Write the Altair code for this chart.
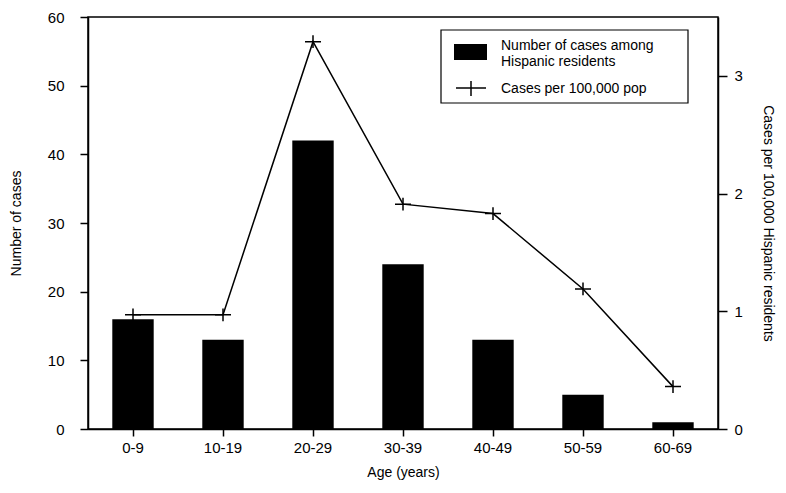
import altair as alt
import pandas as pd

ages = ["0-9", "10-19", "20-29", "30-39", "40-49", "50-59", "60-69"]
cases = [16, 13, 42, 24, 13, 5, 1]
rates = [0.97, 0.97, 3.29, 1.91, 1.83, 1.19, 0.36]

df = pd.DataFrame({"age": ages, "cases": cases, "rate": rates})
one = pd.DataFrame({"k": [0]})

FONT = "Liberation Sans"
cross = "M-1,0H1M0,-0.8V0.8"

xenc = alt.X(
    "age:N", sort=ages,
    scale=alt.Scale(paddingInner=0.54, paddingOuter=0.27),
    axis=alt.Axis(title="Age (years)", labelAngle=0, tickSize=7, labelPadding=4,
                  labelFontSize=15, titleFontSize=14, titlePadding=10,
                  titleFontWeight="normal", domain=True),
)

bars = alt.Chart(df).mark_bar(color="black").encode(
    x=xenc,
    y=alt.Y("cases:Q", scale=alt.Scale(domain=[0, 60], nice=False),
            axis=alt.Axis(title="Number of cases", values=[0, 10, 20, 30, 40, 50, 60],
                          tickSize=8, labelPadding=16, labelFontSize=15,
                          titleFontSize=14, titleFontWeight="normal",
                          titleX=-68, titleY=206, titleAngle=-90,
                          titleBaseline="alphabetic", titleAlign="center",
                          grid=False)),
)

line = alt.Chart(df).mark_line(
    color="black", strokeWidth=1.5,
    point=alt.OverlayMarkDef(shape=cross, size=256, filled=False, stroke="black",
                             strokeWidth=1.5, opacity=1),
).encode(
    x=alt.X("age:N", sort=ages),
    y=alt.Y("rate:Q", scale=alt.Scale(domain=[0, 3.5], nice=False),
            axis=alt.Axis(orient="right", title="Cases per 100,000 Hispanic residents",
                          values=[0, 1, 2, 3], tickSize=9, labelPadding=7,
                          labelFontSize=15, titleFontSize=14, titleFontWeight="normal",
                          titleX=45, titleY=206, titleAngle=90,
                          titleBaseline="alphabetic", titleAlign="center",
                          grid=False)),
)

tstyle = dict(align="left", baseline="alphabetic", font=FONT, fontSize=14,
              fontWeight="normal", color="black")

leg_box = alt.Chart(one).mark_rect(fill="white", stroke="black", strokeWidth=1.2).encode(
    x=alt.value(353), x2=alt.value(600), y=alt.value(13), y2=alt.value(86))
leg_sw = alt.Chart(one).mark_rect(fill="black").encode(
    x=alt.value(366), x2=alt.value(399), y=alt.value(27), y2=alt.value(43))
leg_t1 = alt.Chart(one).mark_text(**tstyle).encode(
    x=alt.value(413), y=alt.value(33), text=alt.value("Number of cases among"))
leg_t2 = alt.Chart(one).mark_text(**tstyle).encode(
    x=alt.value(413), y=alt.value(49), text=alt.value("Hispanic residents"))
leg_t3 = alt.Chart(one).mark_text(**tstyle).encode(
    x=alt.value(413), y=alt.value(76), text=alt.value("Cases per 100,000 pop"))
leg_h = alt.Chart(one).mark_rule(color="black", strokeWidth=1.5).encode(
    x=alt.value(368), x2=alt.value(398), y=alt.value(71))
leg_v = alt.Chart(one).mark_rule(color="black", strokeWidth=1.5).encode(
    x=alt.value(383), y=alt.value(64), y2=alt.value(79))

chart = alt.layer(
    bars, line,
    leg_box, leg_sw, leg_t1, leg_t2, leg_t3, leg_h, leg_v,
).resolve_scale(y="independent").properties(
    width=630, height=412,
    autosize=alt.AutoSizeParams(type="none"),
    padding={"left": 80, "top": 9, "right": 60, "bottom": 56},
).configure(
    font=FONT,
).configure_view(
    stroke="black", strokeWidth=1.5,
).configure_axis(
    domainColor="black", domainWidth=1.5, tickColor="black", tickWidth=1.5,
    labelColor="black", titleColor="black", labelFont=FONT, titleFont=FONT,
)

chart.save("out.html", embed_options={"renderer": "svg", "actions": False})
